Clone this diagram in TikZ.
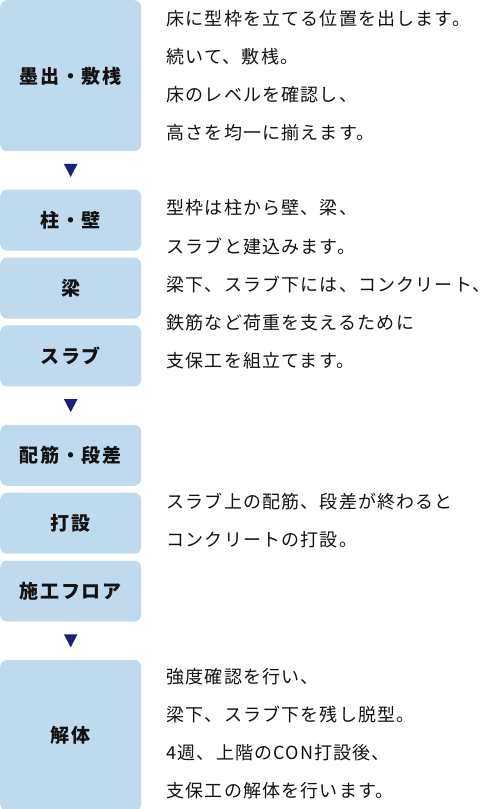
\documentclass[tikz,border=0pt]{standalone}
\usepackage{fontspec}
\usepackage{xcolor}
\usetikzlibrary{positioning,calc}
\newfontfamily\cjk[LetterSpace=6.5]{Noto Sans CJK JP}
\newfontfamily\cjklabel[LetterSpace=8.5]{Noto Sans CJK JP}
\definecolor{boxblue}{RGB}{190,218,236}
\definecolor{tipnavy}{RGB}{27,31,117}
\definecolor{txt}{RGB}{18,18,18}

\begin{document}
\begin{tikzpicture} [x=1pt, y=1pt,
	stepbox/.style = {fill=boxblue, rounded corners=7pt, minimum width=141pt, minimum height=61pt,
		inner sep=0pt, text=txt, font={\cjklabel\bfseries\fontsize{19}{22}\selectfont}},
	tallbox/.style = {stepbox, minimum height=151pt},
	note/.style = {anchor=west, align=left, inner sep=0pt, text=txt,
		font={\cjk\fontsize{18}{38.2}\selectfont}},
	tip/.style = {fill=tipnavy}]
	\useasboundingbox (0,0) rectangle (491,-809);
		\node[tallbox, anchor=north west] (s1) at (0,0) {墨出・敷桟};
		\node[stepbox, below=38pt of s1] (s2) {柱・壁};
		\node[stepbox, below=6.5pt of s2] (s3) {梁};
		\node[stepbox, below=6.5pt of s3] (s4) {スラブ};
		\node[stepbox, below=38pt of s4] (s5) {配筋・段差};
		\node[stepbox, below=6.5pt of s5] (s6) {打設};
		\node[stepbox, below=6.5pt of s6] (s7) {施工フロア};
		\node[tallbox, below=38pt of s7] (s8) {解体};
%	triangles between the groups
	\coordinate (a1) at ($(s1.south)!0.5!(s2.north)$);
	\coordinate (a2) at ($(s4.south)!0.5!(s5.north)$);
	\coordinate (a3) at ($(s7.south)!0.5!(s8.north)$);
	\foreach \a in {a1, a2, a3}
		\fill[tip] (\a) ++(-6.8,6.5) -- ++(13.6,0) -- ++(-6.8,-13) -- cycle;
%	notes
		\node[note, right=25pt of s1] (t1) {床に型枠を立てる位置を出します。\\続いて、敷桟。\\床のレベルを確認し、\\高さを均一に揃えます。};
		\node[note, right=25pt of s3, yshift=3.5pt] (t2) {型枠は柱から壁、梁、\\スラブと建込みます。\\梁下、スラブ下には、コンクリート、\\鉄筋など荷重を支えるために\\支保工を組立てます。};
		\node[note, right=25pt of s6, yshift=2.5pt] (t3) {スラブ上の配筋、段差が終わると\\コンクリートの打設。};
		\node[note, right=25pt of s8, yshift=2pt] (t4) {強度確認を行い、\\梁下、スラブ下を残し脱型。\\4週、上階のCON打設後、\\支保工の解体を行います。};
	\end{tikzpicture}
\end{document}
